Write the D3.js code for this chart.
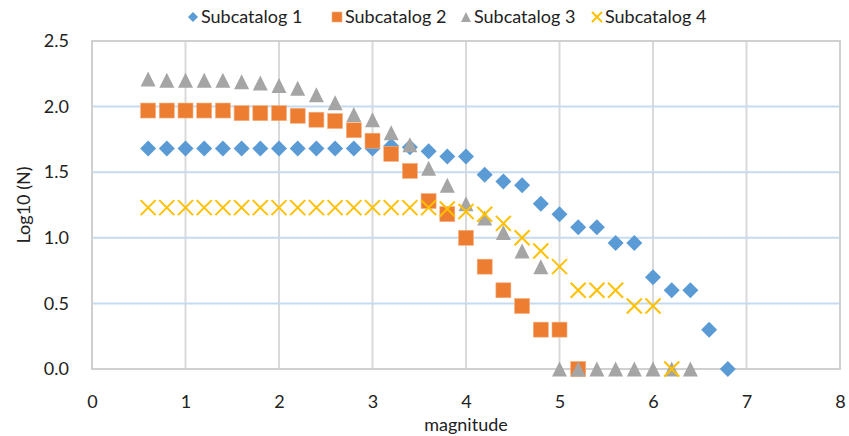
<!DOCTYPE html>
<html><head><meta charset="utf-8">
<script src="https://cdn.jsdelivr.net/npm/d3@7"></script>
<style>body{margin:0;background:#fff;} text{font-family:Lato,"Open Sans",sans-serif;}</style>
</head><body>
<svg id="c" width="849" height="436"></svg>
<script>
const magnitudes = [0.6,0.8,1.0,1.2,1.4,1.6,1.8,2.0,2.2,2.4,2.6,2.8,3.0,3.2,3.4,3.6,3.8,4.0,4.2,4.4,4.6,4.8,5.0,5.2,5.4,5.6,5.8,6.0,6.2,6.4,6.6,6.8];
const sub1 = [1.68,1.68,1.68,1.68,1.68,1.68,1.68,1.68,1.68,1.68,1.68,1.68,1.68,1.70,1.69,1.66,1.62,1.62,1.48,1.43,1.40,1.26,1.18,1.08,1.08,0.96,0.96,0.70,0.60,0.60,0.30,0.00];
const sub2 = [1.97,1.97,1.97,1.97,1.97,1.95,1.95,1.95,1.93,1.90,1.89,1.82,1.74,1.64,1.51,1.28,1.18,1.00,0.78,0.60,0.48,0.30,0.30,0.00];
const sub3 = [2.21,2.20,2.20,2.20,2.20,2.19,2.18,2.16,2.14,2.09,2.03,1.94,1.90,1.80,1.71,1.53,1.40,1.26,1.15,1.04,0.90,0.78,0.00,0.00,0.00,0.00,0.00,0.00,0.00,0.00];
const sub4 = [1.23,1.23,1.23,1.23,1.23,1.23,1.23,1.23,1.23,1.23,1.23,1.23,1.23,1.23,1.23,1.23,1.22,1.20,1.18,1.11,1.00,0.90,0.78,0.60,0.60,0.60,0.48,0.48,0.00];
const seriesNames = ["Subcatalog 1","Subcatalog 2","Subcatalog 3","Subcatalog 4"];
const seriesColors = ["#5b9bd5","#ed7d31","#a5a5a5","#ffc000"];
const xTicks = [0,1,2,3,4,5,6,7,8];
const yTicks = [0,0.5,1.0,1.5,2.0,2.5];

const svg = d3.select("#c");
const m = {l:92, r:9, t:41, b:67};
const W = 849, H = 436;
const FS = 18;
const x = d3.scaleLinear().domain([0,8]).range([m.l, W-m.r]);
const y = d3.scaleLinear().domain([0,2.5]).range([H-m.b, m.t]);

// gridlines
svg.append("g").selectAll("line").data(xTicks.slice(1,-1)).join("line")
  .attr("x1",d=>x(d)).attr("x2",d=>x(d)).attr("y1",y(0)).attr("y2",y(2.5))
  .attr("stroke","#d9d9d9").attr("stroke-width",2);
svg.append("g").selectAll("line").data(yTicks.slice(1,-1)).join("line")
  .attr("x1",x(0)).attr("x2",x(8)).attr("y1",d=>y(d)).attr("y2",d=>y(d))
  .attr("stroke","#c6dbf0").attr("stroke-width",2);
svg.append("rect").attr("x",x(0)).attr("y",y(2.5)).attr("width",x(8)-x(0)).attr("height",y(0)-y(2.5))
  .attr("fill","none").attr("stroke","#d0d0d0").attr("stroke-width",2);

// axes
const xa = svg.append("g").attr("transform",`translate(0,${y(0)+23})`)
  .call(d3.axisBottom(x).tickValues(xTicks).tickFormat(d3.format("d")).tickSize(0));
xa.select(".domain").remove();
xa.selectAll("text").attr("font-size",FS).attr("fill","#222").attr("dy","0.71em");
const ya = svg.append("g").attr("transform",`translate(${x(0)-20},0)`)
  .call(d3.axisLeft(y).tickValues(yTicks).tickFormat(d3.format(".1f")).tickSize(0));
ya.select(".domain").remove();
ya.selectAll("text").attr("font-size",FS).attr("fill","#222");

svg.append("text").attr("x",(x(0)+x(8))/2).attr("y",431).attr("text-anchor","middle")
  .attr("font-size",FS).attr("fill","#222").text("magnitude");
svg.append("text").attr("transform",`translate(30,${(y(0)+y(2.5))/2}) rotate(-90)`)
  .attr("text-anchor","middle").attr("font-size",FS).attr("fill","#222").text("Log10 (N)");

// markers
function drawMarker(g, i, size){
  const s = size/2;
  if(i===3){
    g.append("path").attr("d",`M${-s},${-s}L${s},${s}M${-s},${s}L${s},${-s}`)
     .attr("stroke",seriesColors[3]).attr("stroke-width",2).attr("fill","none");
  } else if(i===0){
    g.append("path").attr("d",`M0,${-s}L${s},0L0,${s}L${-s},0Z`).attr("fill",seriesColors[0]);
  } else if(i===1){
    g.append("rect").attr("x",-s).attr("y",-s).attr("width",size).attr("height",size)
     .attr("fill",seriesColors[1]).attr("stroke","#f4b183").attr("stroke-width",0.6);
  } else {
    g.append("path").attr("d",`M0,${-s}L${s},${s}L${-s},${s}Z`).attr("fill",seriesColors[2]);
  }
}
const allSeries = [sub1,sub2,sub3,sub4];
allSeries.forEach((vals,i)=>{
  const g = svg.append("g");
  vals.forEach((v,j)=>{
    const mg = g.append("g").attr("transform",`translate(${x(magnitudes[j])},${y(v)})`);
    drawMarker(mg, i, i===0?16:15);
  });
});

// legend
const legX = [193, 337, 466, 597];
seriesNames.forEach((n,i)=>{
  const g = svg.append("g").attr("transform",`translate(${legX[i]},17)`);
  drawMarker(g, i, 10);
  g.append("text").attr("x",8).attr("y",0).attr("dy","0.35em").attr("font-size",FS).attr("fill","#222").text(n);
});
</script>
</body></html>
